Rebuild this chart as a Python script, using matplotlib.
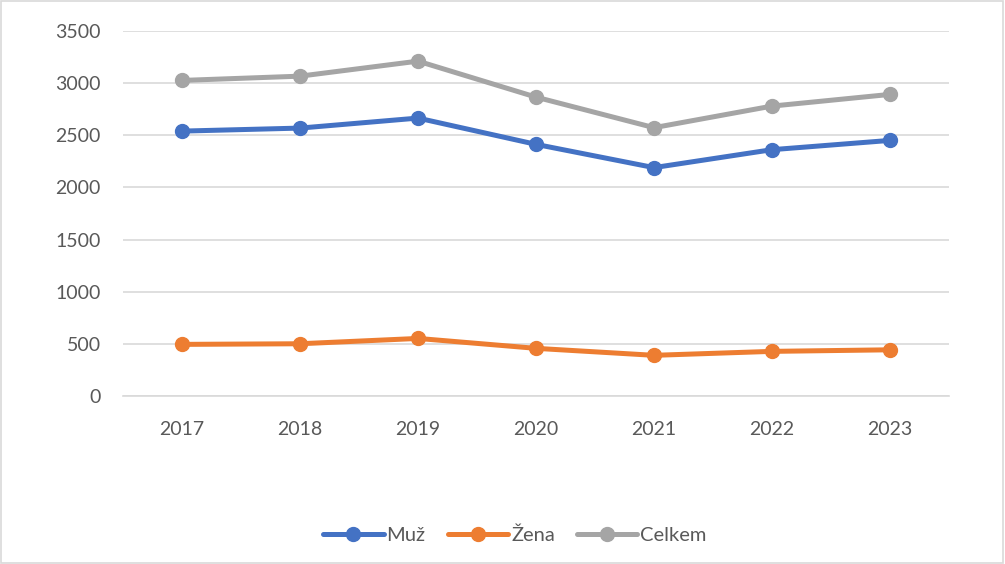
import matplotlib.pyplot as plt
from matplotlib.patches import Rectangle

years = ['2017', '2018', '2019', '2020', '2021', '2022', '2023']
muz = [2540, 2569, 2665, 2413, 2190, 2362, 2451]
zena = [495, 501, 552, 457, 390, 428, 443]
celkem = [3026, 3067, 3211, 2866, 2573, 2780, 2892]

plt.rcParams['font.family'] = ['Lato', 'DejaVu Sans']
text_col = '#595959'
grid_col = '#d9d9d9'

fig = plt.figure(figsize=(10.05, 5.64), dpi=100)
ax = fig.add_axes([123 / 1005, 1 - 396 / 564, 826 / 1005, 365 / 564])

x = range(len(years))
series = [('Muž', muz, '#4472C4'), ('Žena', zena, '#ED7D31'), ('Celkem', celkem, '#A5A5A5')]
for label, vals, col in series:
    ax.plot(x, vals, color=col, lw=3.6, marker='o', ms=10, label=label,
            solid_capstyle='round', zorder=3)

ax.set_xlim(-0.5, 6.5)
ax.set_ylim(0, 3500)
ax.set_yticks(range(0, 3501, 500))
ax.set_xticks(list(x))
ax.set_xticklabels(years)
ax.grid(axis='y', color=grid_col, lw=1.2)
ax.set_axisbelow(True)
for s in ['top', 'right', 'left']:
    ax.spines[s].set_visible(False)
ax.spines['bottom'].set_color(grid_col)
ax.spines['bottom'].set_linewidth(1.2)
ax.tick_params(axis='both', length=0, labelsize=14, labelcolor=text_col)
ax.tick_params(axis='y', pad=16)
ax.tick_params(axis='x', pad=18)

fig.legend(loc='center', bbox_to_anchor=(515 / 1005, 1 - 535 / 564), ncol=3,
           frameon=False, fontsize=14.5, handlelength=3.0, columnspacing=1.1,
           handletextpad=0.15, labelcolor=text_col)

fig.patches.append(Rectangle((0.001, 0.002), 0.997, 0.996, transform=fig.transFigure,
                             fill=False, edgecolor=grid_col, lw=1.2))

fig.savefig('out.png', dpi=100)
